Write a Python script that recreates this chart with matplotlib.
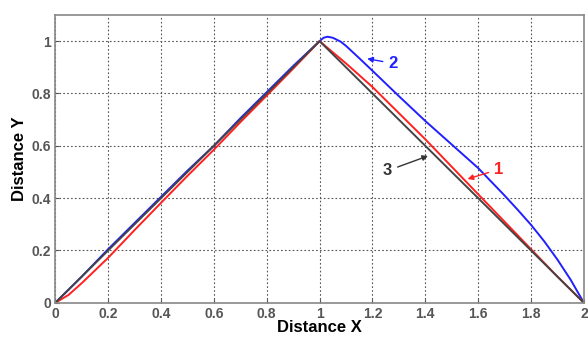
import matplotlib.pyplot as plt

plt.rcParams['font.family'] = ['Liberation Sans', 'DejaVu Sans']

# curve 3 (black): ideal triangle path
x3 = [0, 1, 2]
y3 = [0, 1, 0]

# curve 1 (red)
x1 = [0, 0.05, 0.1, 0.2, 0.3, 0.4, 0.5, 0.6, 0.7, 0.8, 0.9, 1.0, 1.1, 1.2, 1.3, 1.4, 1.5, 1.6, 1.7, 1.8, 1.9, 2.0]
y1 = [0, 0.03, 0.075, 0.172, 0.278, 0.382, 0.485, 0.585, 0.69, 0.792, 0.895, 1.0, 0.915, 0.825, 0.725, 0.625, 0.52, 0.415, 0.31, 0.205, 0.1, 0]

# curve 2 (blue)
x2 = [0, 0.05, 0.1, 0.2, 0.3, 0.4, 0.5, 0.6, 0.7, 0.8, 0.9, 1.0, 1.015, 1.03, 1.05, 1.08, 1.1, 1.15, 1.2, 1.3, 1.4, 1.5, 1.6, 1.7, 1.75, 1.8, 1.85, 1.9, 1.95, 2.0]
y2 = [0, 0.05, 0.1, 0.205, 0.305, 0.405, 0.505, 0.6, 0.705, 0.805, 0.905, 1.0, 1.013, 1.017, 1.013, 0.998, 0.982, 0.935, 0.887, 0.79, 0.695, 0.605, 0.515, 0.41, 0.355, 0.298, 0.235, 0.165, 0.088, 0]

fig, ax = plt.subplots(figsize=(5.88, 3.41), dpi=100)
fig.subplots_adjust(left=0.094, right=0.993, top=0.956, bottom=0.112)

ax.plot(x2, y2, color='#2020ff', lw=1.4)
ax.plot(x1, y1, color='#ff2020', lw=1.4)
ax.plot(x3, y3, color='#444444', lw=1.4)

ax.set_xlim(0, 2)
ax.set_ylim(0, 1.1)
ax.set_xticks([0, 0.2, 0.4, 0.6, 0.8, 1, 1.2, 1.4, 1.6, 1.8, 2])
ax.set_xticklabels(['0', '0.2', '0.4', '0.6', '0.8', '1', '1.2', '1.4', '1.6', '1.8', '2'])
ax.set_yticks([0, 0.2, 0.4, 0.6, 0.8, 1])
ax.set_yticklabels(['0', '0.2', '0.4', '0.6', '0.8', '1'])
ax.grid(True, color='#555555', linestyle=(0, (1.5, 2)), lw=0.8)
ax.tick_params(labelsize=10, colors='#555555', length=3, direction='in', pad=3)
for lab in ax.get_xticklabels() + ax.get_yticklabels():
    lab.set_fontweight('bold')
for s in ax.spines.values():
    s.set_color('#888888')
    s.set_linewidth(1.2)

ax.set_xlabel('Distance X', fontsize=12, fontweight='bold', labelpad=-1)
ax.set_ylabel('Distance Y', fontsize=12, fontweight='bold', labelpad=3)

ax.annotate('2', xy=(1.17, 0.935), xytext=(1.26, 0.915), color='#2020ff',
            fontsize=12, fontweight='bold', va='center',
            arrowprops=dict(arrowstyle='-|>', color='#2020ff', lw=1, mutation_scale=8))
ax.annotate('1', xy=(1.55, 0.47), xytext=(1.66, 0.51), color='#ff2020',
            fontsize=12, fontweight='bold', va='center',
            arrowprops=dict(arrowstyle='-|>', color='#ff2020', lw=1, mutation_scale=8))
ax.annotate('3', xy=(1.42, 0.565), xytext=(1.24, 0.505), color='#333333',
            fontsize=12, fontweight='bold', va='center',
            arrowprops=dict(arrowstyle='-|>', color='#333333', lw=1, mutation_scale=8))

fig.savefig('out.png', dpi=100)
